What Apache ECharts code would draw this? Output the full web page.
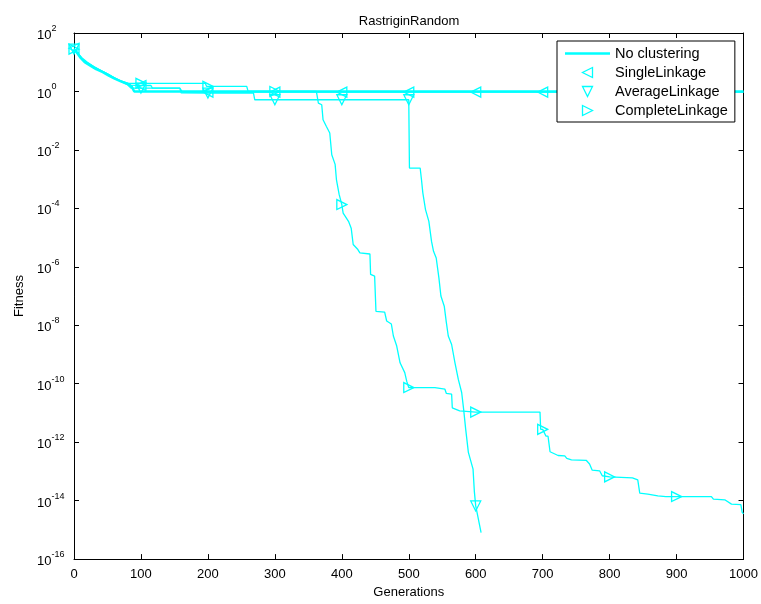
<!DOCTYPE html>
<html><head><meta charset="utf-8">
<script src="https://cdn.jsdelivr.net/npm/echarts@6/dist/echarts.min.js"></script>
<style>html,body{margin:0;padding:0;background:#fff}#c{width:761px;height:604px}</style>
</head><body><div id="c"></div>
<script>
const chartTitle = 'RastriginRandom';
const xName = 'Generations';
const yName = 'Fitness';
const legendNames = ['No clustering', 'SingleLinkage', 'AverageLinkage', 'CompleteLinkage'];

const noClusterGen = [0,4,10,16,25,33,43,52,60,70,80,86,90,1000];
const noClusterFit = [28,22,14,10,7.5,5.8,4.6,3.5,2.8,2.2,1.8,1.5,1.0,1.0];

const singleGen = [0,6,12,20,30,40,50,58,66,75,85,100,115,117,158,162,200,300,400,500,600,700,800,900,1000];
const singleFit = [30,19,13,9,6.6,5,3.9,3.0,2.5,2.0,1.65,1.6,1.6,1.3,1.3,0.95,0.95,0.95,0.95,0.95,0.95,0.95,0.95,0.95,0.95];

const averageGen = [0,5,12,20,30,42,52,62,72,80,85,100,158,160,200,268,270,300,400,500,501,517,519,521,525,530,534,537,541,545,548,553,556,559,564,569,574,579,582,585,589,596,598,600,608];
const averageFit = [28,20,13,9.5,7,5,3.8,2.7,2.1,1.7,1.3,1.3,1.3,0.9,0.88,0.9,0.52,0.52,0.52,0.52,2.4e-3,2.4e-3,9.5e-4,3.4e-4,9.1e-5,3.6e-5,7.4e-6,3.4e-6,2.0e-6,4.2e-7,1.0e-7,4.5e-8,1.3e-8,4.3e-9,2.2e-9,5.2e-10,1.4e-10,5.0e-11,1.3e-11,2.8e-12,4.5e-13,1.2e-13,2e-14,6.6e-15,8.1e-16];

const completeGen = [0,5,12,20,30,40,50,60,68,78,82,100,196,198,200,258,260,300,362,365,370,372,377,382,385,390,392,396,400,402,410,414,417,424,427,442,443,449,451,464,467,474,477,482,487,494,497,500,539,554,556,564,565,576,600,696,697,700,705,708,711,723,733,736,743,765,770,774,785,789,800,834,842,845,857,872,884,900,952,955,972,982,996,998,1000];
const completeFit = [28,21,14,10,7,5.2,4,3,2.4,2.0,1.9,1.9,1.9,1.5,1.5,1.5,1.0,1.0,1.0,0.4,0.35,0.107,0.063,0.038,6.8e-3,3.2e-3,9.5e-4,3.0e-4,1.35e-4,6.9e-5,3.6e-5,2.1e-5,5.8e-6,3.9e-6,3.0e-6,2.75e-6,5.5e-7,4.8e-7,3.0e-8,2.8e-8,1.4e-8,1.1e-8,4.3e-9,1.95e-9,5.2e-10,2.4e-10,1.2e-10,7.4e-11,7.4e-11,6.5e-11,4.7e-11,4.4e-11,1.5e-11,1.17e-11,1.07e-11,1.07e-11,2.75e-12,2.75e-12,1.6e-12,1.6e-12,4.7e-13,3.5e-13,3.4e-13,2.8e-13,2.5e-13,2.4e-13,1.8e-13,1.1e-13,1.05e-13,7.1e-14,6.5e-14,6.0e-14,5.1e-14,1.8e-14,1.66e-14,1.45e-14,1.38e-14,1.38e-14,1.38e-14,1.12e-14,1.07e-14,7.6e-15,7.3e-15,4.0e-15,3.5e-15];

const markerStep = 100;
const markerLast = 900;

const CYAN = '#00ffff';
const FONT = '"Liberation Sans", Arial, sans-serif';
const HOLLOW = { color: 'rgba(255,255,255,0)', borderColor: CYAN, borderWidth: 1.3 };

function pairs(g, f) { return g.map((x, i) => [x, f[i]]); }
function markers(g, f) {
  return pairs(g, f).filter(p => p[0] % markerStep === 0 && p[0] <= markerLast);
}
function lineSeries(name, g, f, w, z) {
  return { name: name, type: 'line', data: pairs(g, f), symbol: 'none', showSymbol: false,
    lineStyle: { color: CYAN, width: w }, itemStyle: { color: CYAN }, z: z, silent: true,
    xAxisIndex: 0, yAxisIndex: 0 };
}
function markerSeries(name, g, f, rot) {
  return { name: name, type: 'scatter', data: markers(g, f), symbol: 'triangle', symbolSize: 10,
    symbolRotate: rot, itemStyle: Object.assign({ opacity: 1 }, HOLLOW),
    z: 3, silent: true, xAxisIndex: 0, yAxisIndex: 0 };
}

const chart = echarts.init(document.getElementById('c'), null, { renderer: 'canvas' });
const axisCommon = {
  axisLine: { show: true, onZero: false, lineStyle: { color: '#000', width: 1 } },
  axisTick: { show: true, inside: true, length: 5, lineStyle: { color: '#000' } },
  splitLine: { show: false }
};
const option = {
  animation: false,
  backgroundColor: '#fff',
  title: { text: chartTitle, left: 409, textAlign: 'center', top: 15, padding: 0,
    textStyle: { fontSize: 13, fontWeight: 'normal', color: '#000', fontFamily: FONT } },
  grid: { left: 74, right: 17, top: 33, bottom: 44, containLabel: false },
  legend: {
    data: [
      { name: legendNames[0], icon: 'path://M0,0L45,0L45,2.6L0,2.6Z', itemStyle: { color: CYAN, borderWidth: 0 } },
      { name: legendNames[1], icon: 'path://M10,0L0,5L10,10Z', itemStyle: HOLLOW },
      { name: legendNames[2], icon: 'path://M0,0L10,0L5,10Z', itemStyle: HOLLOW },
      { name: legendNames[3], icon: 'path://M0,0L10,5L0,10Z', itemStyle: HOLLOW }
    ],
    orient: 'vertical', left: 557, top: 41, z: 10,
    itemWidth: 45, itemHeight: 10, itemGap: 4, padding: [5, 7, 4, 8],
    symbolKeepAspect: true,
    borderColor: '#000', borderWidth: 1, backgroundColor: '#fff', borderRadius: 0,
    textStyle: { fontSize: 14.5, color: '#000', fontFamily: FONT },
    selectedMode: false
  },
  xAxis: [
    Object.assign({ type: 'value', min: 0, max: 1000, interval: 100, position: 'bottom',
      name: xName, nameLocation: 'middle', nameGap: 24,
      nameTextStyle: { fontSize: 13, color: '#000', fontFamily: FONT },
      axisLabel: { fontSize: 13, color: '#000', fontFamily: FONT, margin: 9,
        formatter: function (v) { return String(v); } } }, axisCommon),
    Object.assign({ type: 'value', min: 0, max: 1000, interval: 100, position: 'top',
      axisLabel: { show: false } }, axisCommon)
  ],
  yAxis: [
    Object.assign({ type: 'log', logBase: 10, min: 1e-16, max: 100, interval: 2, position: 'left',
      name: yName, nameLocation: 'middle', nameGap: 45,
      nameTextStyle: { fontSize: 13, color: '#000', fontFamily: FONT },
      minorTick: { show: false },
      axisLabel: { margin: 37, align: 'left', color: '#000',
        formatter: function (v) { const e = Math.round(Math.log10(v)); return '{b|10}{s|' + e + '}'; },
        rich: {
          b: { fontSize: 13, fontFamily: FONT, color: '#000', lineHeight: 18, verticalAlign: 'bottom' },
          s: { fontSize: 9, fontFamily: FONT, color: '#000', lineHeight: 9, verticalAlign: 'top' }
        } } }, axisCommon),
    Object.assign({ type: 'log', logBase: 10, min: 1e-16, max: 100, interval: 2, position: 'right',
      minorTick: { show: false }, axisLabel: { show: false } }, axisCommon)
  ],
  series: [
    lineSeries('SingleLinkage line', singleGen, singleFit, 1.3, 2),
    lineSeries('AverageLinkage line', averageGen, averageFit, 1.3, 2),
    lineSeries('CompleteLinkage line', completeGen, completeFit, 1.3, 2),
    lineSeries('No clustering', noClusterGen, noClusterFit, 2.5, 2.5),
    markerSeries('SingleLinkage', singleGen, singleFit, 90),
    markerSeries('AverageLinkage', averageGen, averageFit, 180),
    markerSeries('CompleteLinkage', completeGen, completeFit, -90)
  ]
};
chart.setOption(option);
</script>
</body></html>
